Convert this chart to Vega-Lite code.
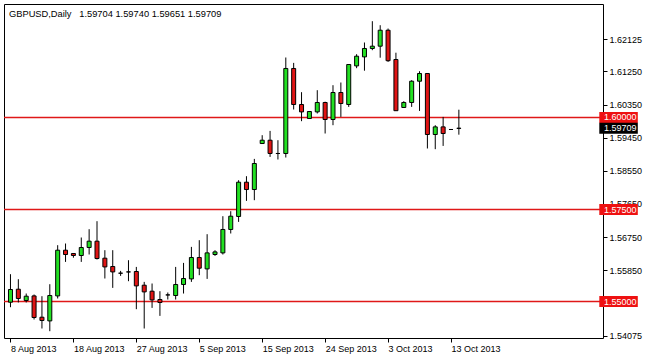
{
  "$schema": "https://vega.github.io/schema/vega-lite/v6.json",
  "width": 599,
  "height": 334,
  "autosize": {"type": "none"},
  "padding": {"left": 4, "top": 4, "right": 45, "bottom": 20},
  "background": "#ffffff",
  "title": {
    "text": "GBPUSD,Daily\u00a0\u00a0 1.59704 1.59740 1.59651 1.59709",
    "anchor": "start",
    "frame": "group",
    "offset": -15,
    "dx": 5,
    "font": "Liberation Sans",
    "fontSize": 9.3,
    "fontWeight": "normal",
    "color": "#000000"
  },
  "config": {
    "view": {"stroke": "#000000", "strokeWidth": 1},
    "axis": {
      "domain": false,
      "grid": false,
      "title": null,
      "tickColor": "#000000",
      "tickSize": 4,
      "labelFont": "Liberation Sans",
      "labelFontSize": 9,
      "labelColor": "#000000",
      "labelPadding": 2,
      "labelOverlap": false,
      "labelFlush": false,
      "labelBound": false
    }
  },
  "datasets": {
    "candles": [
      {"i": 0, "d": "8 Aug", "o": 1.54981, "h": 1.55742, "l": 1.54845, "c": 1.55326},
      {"i": 1, "d": "9 Aug", "o": 1.55334, "h": 1.55606, "l": 1.54973, "c": 1.55082},
      {"i": 2, "d": "11 Aug", "o": 1.55027, "h": 1.55217, "l": 1.54973, "c": 1.55144},
      {"i": 3, "d": "12 Aug", "o": 1.55152, "h": 1.5519, "l": 1.54511, "c": 1.54565},
      {"i": 4, "d": "13 Aug", "o": 1.54573, "h": 1.55144, "l": 1.54266, "c": 1.54484},
      {"i": 5, "d": "14 Aug", "o": 1.54473, "h": 1.5547, "l": 1.54193, "c": 1.55163},
      {"i": 6, "d": "15 Aug", "o": 1.55152, "h": 1.5653, "l": 1.55082, "c": 1.56394},
      {"i": 7, "d": "16 Aug", "o": 1.56394, "h": 1.56576, "l": 1.56076, "c": 1.56277},
      {"i": 8, "d": "18 Aug", "o": 1.56304, "h": 1.56304, "l": 1.5619, "c": 1.5625},
      {"i": 9, "d": "19 Aug", "o": 1.5625, "h": 1.56739, "l": 1.56076, "c": 1.56467},
      {"i": 10, "d": "20 Aug", "o": 1.56467, "h": 1.56965, "l": 1.56277, "c": 1.56639},
      {"i": 11, "d": "21 Aug", "o": 1.56639, "h": 1.57182, "l": 1.56141, "c": 1.56168},
      {"i": 12, "d": "22 Aug", "o": 1.56177, "h": 1.56394, "l": 1.55625, "c": 1.5594},
      {"i": 13, "d": "23 Aug", "o": 1.55951, "h": 1.56394, "l": 1.5537, "c": 1.55804},
      {"i": 14, "d": "25 Aug", "o": 1.55769, "h": 1.55832, "l": 1.55696, "c": 1.55769},
      {"i": 15, "d": "26 Aug", "o": 1.55804, "h": 1.56122, "l": 1.55552, "c": 1.55804},
      {"i": 16, "d": "27 Aug", "o": 1.55815, "h": 1.5594, "l": 1.54791, "c": 1.55424},
      {"i": 17, "d": "28 Aug", "o": 1.55443, "h": 1.55533, "l": 1.54266, "c": 1.55261},
      {"i": 18, "d": "29 Aug", "o": 1.5528, "h": 1.55489, "l": 1.54826, "c": 1.55043},
      {"i": 19, "d": "30 Aug", "o": 1.55054, "h": 1.5528, "l": 1.54609, "c": 1.54973},
      {"i": 20, "d": "1 Sep", "o": 1.55179, "h": 1.55245, "l": 1.55054, "c": 1.55179},
      {"i": 21, "d": "2 Sep", "o": 1.55163, "h": 1.5594, "l": 1.55054, "c": 1.55462},
      {"i": 22, "d": "3 Sep", "o": 1.55462, "h": 1.56049, "l": 1.55217, "c": 1.55625},
      {"i": 23, "d": "4 Sep", "o": 1.55614, "h": 1.56484, "l": 1.55533, "c": 1.56196},
      {"i": 24, "d": "5 Sep", "o": 1.56196, "h": 1.56666, "l": 1.55715, "c": 1.55905},
      {"i": 25, "d": "6 Sep", "o": 1.55886, "h": 1.56829, "l": 1.55614, "c": 1.56321},
      {"i": 26, "d": "8 Sep", "o": 1.56277, "h": 1.56394, "l": 1.56239, "c": 1.56348},
      {"i": 27, "d": "9 Sep", "o": 1.56321, "h": 1.57318, "l": 1.56277, "c": 1.56957},
      {"i": 28, "d": "10 Sep", "o": 1.56957, "h": 1.57454, "l": 1.56848, "c": 1.57318},
      {"i": 29, "d": "11 Sep", "o": 1.5731, "h": 1.58296, "l": 1.57163, "c": 1.58242},
      {"i": 30, "d": "12 Sep", "o": 1.58242, "h": 1.58405, "l": 1.57734, "c": 1.58043},
      {"i": 31, "d": "13 Sep", "o": 1.58043, "h": 1.58875, "l": 1.57753, "c": 1.5875},
      {"i": 32, "d": "15 Sep", "o": 1.59293, "h": 1.59519, "l": 1.59293, "c": 1.59383},
      {"i": 33, "d": "16 Sep", "o": 1.59383, "h": 1.59636, "l": 1.58929, "c": 1.59022},
      {"i": 34, "d": "17 Sep", "o": 1.59022, "h": 1.59383, "l": 1.58859, "c": 1.59022},
      {"i": 35, "d": "18 Sep", "o": 1.59022, "h": 1.6163, "l": 1.58913, "c": 1.61332},
      {"i": 36, "d": "19 Sep", "o": 1.61332, "h": 1.61484, "l": 1.60217, "c": 1.60353},
      {"i": 37, "d": "20 Sep", "o": 1.60353, "h": 1.60688, "l": 1.599, "c": 1.60152},
      {"i": 38, "d": "22 Sep", "o": 1.59973, "h": 1.60172, "l": 1.59962, "c": 1.60163},
      {"i": 39, "d": "23 Sep", "o": 1.60152, "h": 1.60742, "l": 1.60109, "c": 1.60408},
      {"i": 40, "d": "24 Sep", "o": 1.60408, "h": 1.60429, "l": 1.59565, "c": 1.59946},
      {"i": 41, "d": "25 Sep", "o": 1.59946, "h": 1.60878, "l": 1.59791, "c": 1.60679},
      {"i": 42, "d": "26 Sep", "o": 1.60679, "h": 1.60951, "l": 1.60016, "c": 1.6038},
      {"i": 43, "d": "27 Sep", "o": 1.60353, "h": 1.6144, "l": 1.60288, "c": 1.6144},
      {"i": 44, "d": "29 Sep", "o": 1.61402, "h": 1.6172, "l": 1.6134, "c": 1.61666},
      {"i": 45, "d": "30 Sep", "o": 1.61647, "h": 1.62038, "l": 1.61272, "c": 1.61875},
      {"i": 46, "d": "1 Oct", "o": 1.61875, "h": 1.62617, "l": 1.61829, "c": 1.61938},
      {"i": 47, "d": "2 Oct", "o": 1.61938, "h": 1.62508, "l": 1.61625, "c": 1.62372},
      {"i": 48, "d": "3 Oct", "o": 1.62372, "h": 1.62418, "l": 1.61511, "c": 1.61543},
      {"i": 49, "d": "4 Oct", "o": 1.61576, "h": 1.61761, "l": 1.60185, "c": 1.60185},
      {"i": 50, "d": "6 Oct", "o": 1.60272, "h": 1.60443, "l": 1.60272, "c": 1.60408},
      {"i": 51, "d": "7 Oct", "o": 1.60408, "h": 1.61014, "l": 1.60288, "c": 1.60986},
      {"i": 52, "d": "8 Oct", "o": 1.60986, "h": 1.61258, "l": 1.60179, "c": 1.61196},
      {"i": 53, "d": "9 Oct", "o": 1.61196, "h": 1.61196, "l": 1.59158, "c": 1.59538},
      {"i": 54, "d": "10 Oct", "o": 1.59538, "h": 1.59791, "l": 1.59139, "c": 1.59745},
      {"i": 55, "d": "11 Oct", "o": 1.59745, "h": 1.60016, "l": 1.59228, "c": 1.59565},
      {"i": 56, "d": "13 Oct", "o": 1.59674, "h": 1.59685, "l": 1.59665, "c": 1.59674},
      {"i": 57, "d": "14 Oct", "o": 1.59704, "h": 1.60212, "l": 1.59533, "c": 1.59709}
    ],
    "levels": [
      {"price": 1.6, "type": "line"},
      {"price": 1.575, "type": "line"},
      {"price": 1.55, "type": "line"},
      {"price": 1.59709, "type": "current"}
    ]
  },
  "layer": [
    {
      "data": {"name": "levels"},
      "transform": [{"filter": "datum.type == 'line'"}],
      "mark": {"type": "rule", "strokeWidth": 1.3},
      "encoding": {
        "y": {
          "field": "price",
          "type": "quantitative",
          "scale": {"domain": [1.540082, 1.630842], "nice": false, "zero": false},
          "axis": {
            "orient": "right",
            "values": [1.62125, 1.6125, 1.6035, 1.5945, 1.5855, 1.5765, 1.5675, 1.5585, 1.54075],
            "format": ".5f",
            "labelAlign": "left",
            "labelBaseline": "middle"
          }
        },
        "stroke": {"value": "#e01818"}
      }
    },
    {
      "data": {"name": "candles"},
      "mark": {"type": "rule", "strokeWidth": 1, "clip": true},
      "encoding": {
        "x": {
          "field": "i",
          "type": "quantitative",
          "scale": {"domain": [-0.1875, 74.6875], "nice": false, "zero": false},
          "axis": {
            "orient": "bottom",
            "values": [0, 8, 16, 24, 32, 40, 48, 56],
            "labelAlign": "left",
            "labelBaseline": "top",
            "labelExpr": "['8 Aug 2013','18 Aug 2013','27 Aug 2013','5 Sep 2013','15 Sep 2013','24 Sep 2013','3 Oct 2013','13 Oct 2013'][round(datum.value/8)]"
          }
        },
        "y": {"field": "l", "type": "quantitative"},
        "y2": {"field": "h"},
        "stroke": {"value": "#000000"}
      }
    },
    {
      "data": {"name": "candles"},
      "mark": {"type": "bar", "size": 4, "strokeWidth": 1, "clip": true},
      "encoding": {
        "x": {"field": "i", "type": "quantitative"},
        "y": {"field": "o", "type": "quantitative"},
        "y2": {"field": "c"},
        "stroke": {"value": "#000000"},
        "fill": {
          "condition": [
            {"test": "datum.c > datum.o", "value": "#22e022"},
            {"test": "datum.c < datum.o", "value": "#e01414"}
          ],
          "value": "#000000"
        }
      }
    },
    {
      "data": {"name": "levels"},
      "mark": {
        "type": "point",
        "filled": true,
        "opacity": 1,
        "strokeWidth": 0,
        "shape": "M-1,-0.2857H1V0.2857H-1Z",
        "size": 1482
      },
      "encoding": {
        "x": {"datum": 77.3, "type": "quantitative"},
        "y": {"field": "price", "type": "quantitative"},
        "fill": {
          "condition": {"test": "datum.type == 'current'", "value": "#000000"},
          "value": "#ee1111"
        }
      }
    },
    {
      "data": {"name": "levels"},
      "mark": {
        "type": "text",
        "align": "left",
        "baseline": "middle",
        "font": "Liberation Sans",
        "fontSize": 9,
        "color": "#ffffff"
      },
      "encoding": {
        "x": {"datum": 75.44, "type": "quantitative"},
        "y": {"field": "price", "type": "quantitative"},
        "text": {"field": "price", "type": "quantitative", "format": ".5f"}
      }
    }
  ]
}
